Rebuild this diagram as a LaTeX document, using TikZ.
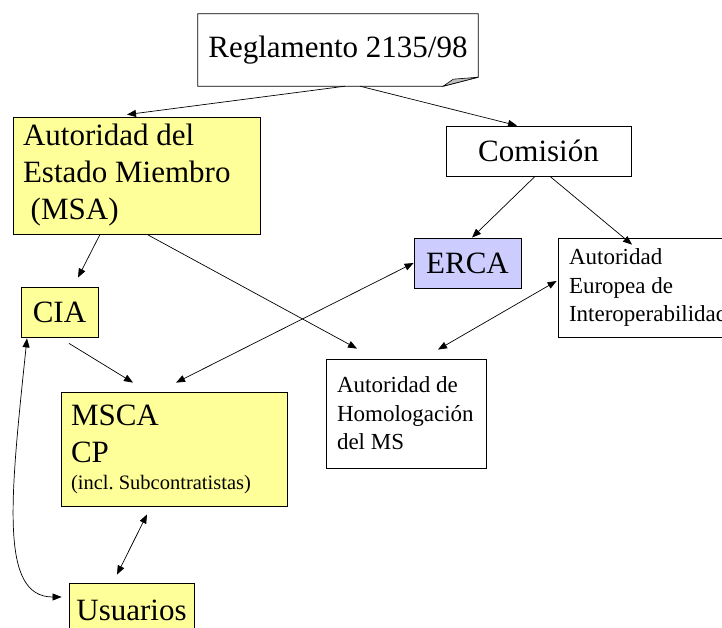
\documentclass[tikz,border=0pt]{standalone}
\usepackage{fontspec}
\setmainfont{Liberation Serif}
\usetikzlibrary{arrows.meta}
\definecolor{boxyellow}{HTML}{FFFF99}
\definecolor{boxblue}{HTML}{CCCCFF}
\definecolor{foldgray}{HTML}{C0C0C0}
\newcommand{\bigtext}{\fontsize{31}{37}\selectfont\frenchspacing}
\newcommand{\smalltext}{\fontsize{23}{28.5}\selectfont\frenchspacing}
\newcommand{\tinytext}{\fontsize{20.5}{25}\selectfont\frenchspacing}
\begin{document}
\begin{tikzpicture}[x=1pt, y=-1pt,
    box/.style={rectangle, draw, line width=0.8pt, inner sep=0pt, align=center},
    leftbox/.style={rectangle, draw, line width=0.8pt, inner xsep=10pt, inner ysep=0pt, align=flush left},
    arr/.style={-{Triangle[length=9pt,width=7pt]}, line width=0.7pt},
    darr/.style={{Triangle[length=9pt,width=7pt]}-{Triangle[length=9pt,width=7pt]}, line width=0.7pt}]
  \useasboundingbox (0,0) rectangle (722,628);
  % Nodes
  \node (regl) [rectangle, inner sep=0pt, minimum width=280pt, minimum height=72pt, font=\bigtext] at (338, 50) {Reglamento 2135/98};
  \node (msa) [leftbox, fill=boxyellow, text width=227pt, minimum height=117pt, font=\bigtext] at (136.5, 175.5) {Autoridad del\\Estado Miembro\\\hspace*{0.25em}(MSA)};
  \node (comision) [box, minimum width=185pt, minimum height=50pt, font=\bigtext] at (538.5, 151) {Comisión};
  \node (erca) [box, fill=boxblue, minimum width=107pt, minimum height=50pt, font=\bigtext] at (467.5, 263) {ERCA};
  \node (europea) [leftbox, inner xsep=11pt, text width=160pt, minimum height=99pt, font=\smalltext] at (649, 287.5) {Autoridad\\Europea de\\Interoperabilidad};
  \node (cia) [box, fill=boxyellow, minimum width=77pt, minimum height=50pt, font=\bigtext] at (59.5, 312) {CIA};
  \node (homolog) [leftbox, inner xsep=11pt, text width=138pt, minimum height=109pt, font=\smalltext] at (406, 413.5) {Autoridad de\\Homologación\\del MS};
  \node (msca) [leftbox, fill=boxyellow, text width=206pt, minimum height=114pt, font=\bigtext] at (174, 449) {MSCA\\CP\\[-10pt]{\tinytext (incl. Subcontratistas)}};
  \node (usu) [box, fill=boxyellow, minimum width=125pt, minimum height=55pt, font=\bigtext] at (131.5, 610.5) {Usuarios};
  % Folded sheet
  \draw[line width=0.8pt] (regl.north west) -- (regl.north east) -- ([yshift=9pt]regl.south east)
    -- ([xshift=-35pt]regl.south east) -- (regl.south west) -- cycle;
  \filldraw[fill=foldgray, line width=0.6pt] ([xshift=-35pt]regl.south east) -- ([yshift=9pt]regl.south east)
    -- ([xshift=-25pt,yshift=7pt]regl.south east) -- cycle;
  % Arrows
  \draw[arr] ([xshift=7pt]regl.south) -- ([xshift=-9.5pt,yshift=2pt]msa.north);
  \draw[arr] ([xshift=22pt]regl.south) -- ([xshift=-21.5pt]comision.north);
  \draw[arr] ([xshift=-3.5pt]comision.south) -- ([xshift=4.5pt]erca.north);
  \draw[arr] ([xshift=11.5pt]comision.south) -- ([xshift=-17pt,yshift=-7pt]europea.north);
  \draw[arr] ([xshift=-36.5pt]msa.south) -- ([xshift=18.5pt,yshift=9pt]cia.north);
  \draw[arr] ([xshift=10.5pt]msa.south) -- ([xshift=-49pt,yshift=10pt]homolog.north);
  \draw[arr] ([xshift=9.5pt,yshift=-6pt]cia.south) -- ([xshift=-41pt,yshift=9pt]msca.north);
  \draw[darr] (erca.west) -- ([xshift=2pt,yshift=9pt]msca.north);
  \draw[darr] ([xshift=-1pt,yshift=6.5pt]europea.west) -- ([xshift=32pt,yshift=9pt]homolog.north);
  \draw[darr] ([xshift=-27pt,yshift=-8pt]msca.south) -- ([xshift=-14.5pt,yshift=8pt]usu.north);
  \draw[darr] ([xshift=-32.5pt,yshift=-1pt]cia.south) .. controls +(-17pt,-162pt) and +(-62pt,0pt) .. ([xshift=-7pt,yshift=13.5pt]usu.west);
\end{tikzpicture}
\end{document}
